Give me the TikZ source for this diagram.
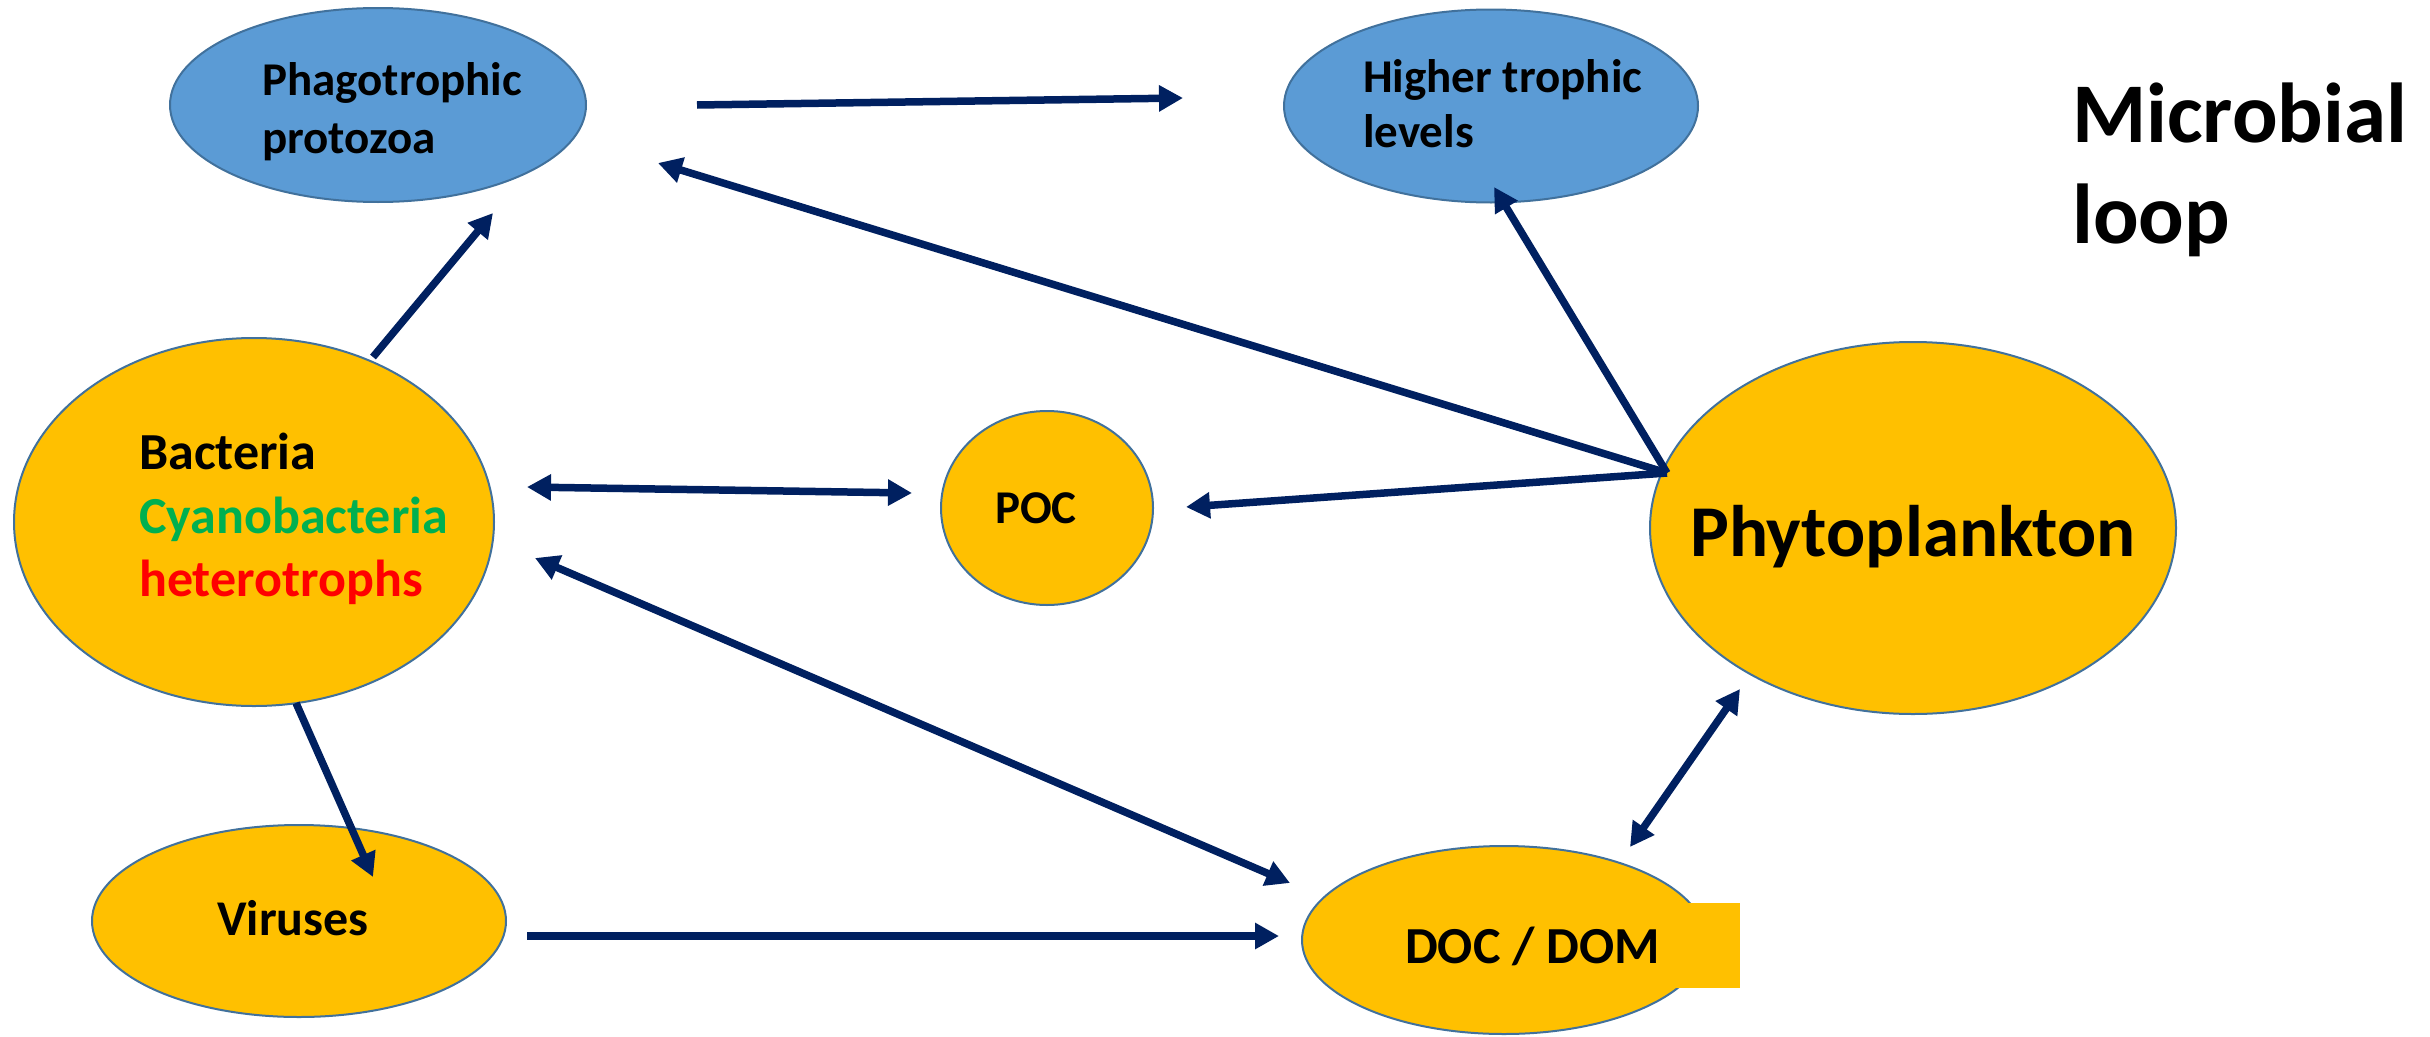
\documentclass[tikz,border=0pt]{standalone}
\usepackage{fontspec}
\setmainfont{Carlito}
\usetikzlibrary{arrows.meta,shapes.geometric}
\definecolor{navy}{HTML}{002060}
\definecolor{orng}{HTML}{FFC000}
\definecolor{skyb}{HTML}{5B9BD5}
\definecolor{edge}{HTML}{41719C}
\definecolor{grn}{HTML}{00B050}
\definecolor{rd}{HTML}{FF0000}
\tikzset{
  blob/.style={ellipse, draw=edge, line width=2pt, inner sep=0pt},
  orangeblob/.style={blob, fill=orng},
  blueblob/.style={blob, fill=skyb},
  lbl/.style={anchor=base west, inner sep=0pt, font=\bfseries},
  flow/.style={draw=navy, line width=7.5pt, -{Triangle[length=24pt,width=25pt]}},
  flow2/.style={draw=navy, line width=7.5pt, {Triangle[length=24pt,width=25pt]}-{Triangle[length=24pt,width=25pt]}}
}
\begin{document}
\begin{tikzpicture}[x=1pt,y=-1pt]
\useasboundingbox (0,0) rectangle (2430,1036);
% ellipses
\node[blueblob, minimum width=416pt, minimum height=194pt] (phago) at (378,105) {};
\node[blueblob, minimum width=414pt, minimum height=193pt] (higher) at (1491,106) {};
\node[orangeblob, minimum width=480pt, minimum height=368pt] (bact) at (254,522) {};
\node[orangeblob, minimum width=212pt, minimum height=194pt] (poc) at (1047,508) {};
\node[orangeblob, minimum width=526pt, minimum height=372pt] (phyto) at (1913,528) {};
\node[orangeblob, minimum width=414pt, minimum height=192pt] (virus) at (299,921) {};
\node[orangeblob, minimum width=404pt, minimum height=188pt] (doc) at (1504,940) {};
\fill[orng] (1650,903) rectangle (1740,988);
% labels
\node[lbl, font=\bfseries\fontsize{47}{58}\selectfont] (phagoA) at (262,95) {Phagotrophic};
\node[lbl, font=\bfseries\fontsize{47}{58}\selectfont] (phagoB) at (262,153) {protozoa};
\node[lbl, font=\bfseries\fontsize{47}{58}\selectfont] (higherA) at (1363,92) {Higher trophic};
\node[lbl, font=\bfseries\fontsize{47}{58}\selectfont] (higherB) at (1363,147) {levels};
\node[lbl, font=\bfseries\fontsize{85}{100}\selectfont] (titleA) at (2072,142) {Microbial};
\node[lbl, font=\bfseries\fontsize{85}{100}\selectfont] (titleB) at (2072,243) {loop};
\node[lbl, font=\bfseries\fontsize{52}{64}\selectfont] (bactA) at (139,469) {Bacteria};
\node[lbl, font=\bfseries\fontsize{52}{64}\selectfont, text=grn] (bactB) at (139,533) {Cyanobacteria};
\node[lbl, font=\bfseries\fontsize{52}{64}\selectfont, text=rd] (bactC) at (139,596) {heterotrophs};
\node[lbl, font=\bfseries\fontsize{47}{58}\selectfont] (pocT) at (995,523) {POC};
\node[lbl, font=\bfseries\fontsize{73}{88}\selectfont] (phytoT) at (1690,556) {Phytoplankton};
\node[lbl, font=\bfseries\fontsize{50}{60}\selectfont] (virusT) at (217,935) {Viruses};
\node[lbl, font=\bfseries\fontsize{52}{64}\selectfont] (docT) at (1405,963) {DOC / DOM};
% connector end points
\coordinate (hub) at (1667,473);
\coordinate (a1s) at (697,105);
\coordinate (a1e) at (1183,98);
\coordinate (a2e) at (658,163);
\coordinate (a3e) at (1494,187);
\coordinate (a4e) at (1186,507);
\coordinate (a5s) at (527,487);
\coordinate (a5e) at (912,493);
\coordinate (a6s) at (535,558);
\coordinate (a6e) at (1290,883);
\coordinate (a7s) at (373,357);
\coordinate (a7e) at (493,213);
\coordinate (a8s) at (296,703);
\coordinate (a8e) at (373,877);
\coordinate (a9s) at (527,936);
\coordinate (a9e) at (1279,936);
\coordinate (a10s) at (1630,847);
\coordinate (a10e) at (1740,689);
% connectors
\draw[flow] (a1s) -- (a1e);
\draw[flow] (hub) -- (a2e);
\draw[flow] (hub) -- (a3e);
\draw[flow] (hub) -- (a4e);
\draw[flow2] (a5s) -- (a5e);
\draw[flow2] (a6s) -- (a6e);
\draw[flow] (a7s) -- (a7e);
\draw[flow] (a8s) -- (a8e);
\draw[flow] (a9s) -- (a9e);
\draw[flow2] (a10s) -- (a10e);
\end{tikzpicture}
\end{document}
